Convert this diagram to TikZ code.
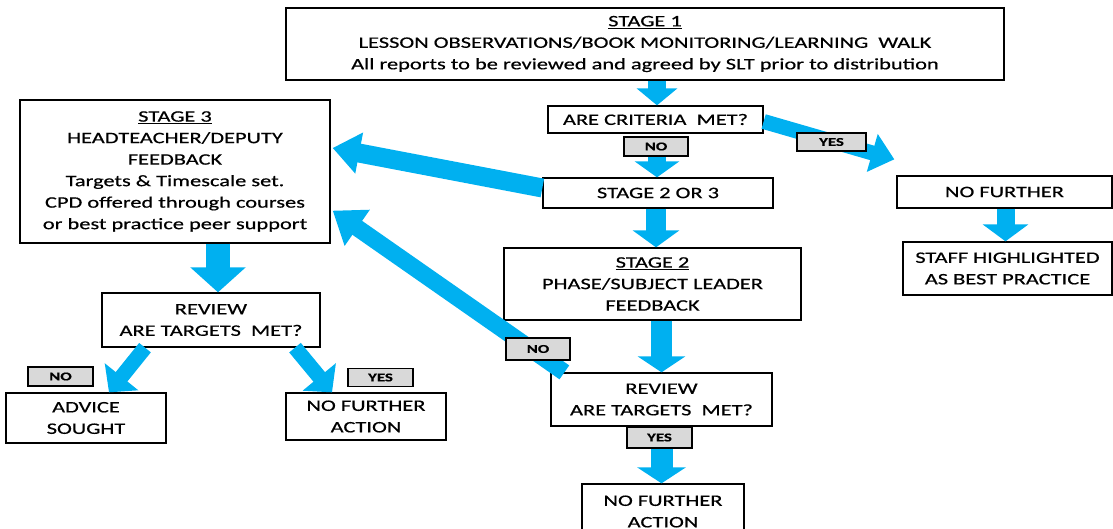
\documentclass[tikz,border=0pt]{standalone}
\usepackage{fontspec}
\setmainfont{Carlito}[FakeStretch=1.4, FakeBold=0.5]
\usetikzlibrary{arrows.meta}
\definecolor{ablue}{RGB}{0,176,240}
\definecolor{lgray}{RGB}{217,217,217}
\begin{document}
\begin{tikzpicture}[x=1pt,y=-1pt,
  box/.style={draw=black, line width=1.3pt, fill=white, align=center, inner sep=0pt,
    font=\fontsize{16}{21.5}\selectfont},
  lbl/.style={draw=black, line width=1.2pt, fill=lgray, inner sep=0pt,
    font=\bfseries\fontsize{12}{12}\selectfont},
  bigarrow/.style n args={3}{draw=ablue, line width=#1, -{Triangle[width=#2, length=#3]}},
]
\useasboundingbox (0,0) rectangle (1113,529);

% boxes
\node[box, minimum width=718pt, minimum height=72pt] (s1) at (645,44)
  {\underline{STAGE 1}\\LESSON OBSERVATIONS/BOOK MONITORING/LEARNING\ \ WALK\\All reports to be reviewed and agreed by SLT prior to distribution};
\node[box, minimum width=215pt, minimum height=27pt] (crit) at (655.5,119.5) {ARE CRITERIA\ \ MET?};
\node[box, minimum width=230pt, minimum height=30pt] (s23) at (658,193) {STAGE 2 OR 3};
\node[box, minimum width=215pt, minimum height=32pt] (nf1) at (1004.5,192) {NO FURTHER};
\node[box, minimum width=209pt, minimum height=53pt] (staff) at (1007.5,268.5) {STAFF HIGHLIGHTED\\AS BEST PRACTICE};
\node[box, minimum width=310pt, minimum height=143pt] (s3) at (175,171.5)
  {\underline{STAGE 3}\\HEADTEACHER/DEPUTY\\FEEDBACK\\Targets \& Timescale set.\\CPD offered through courses\\or best practice peer support};
\node[box, minimum width=218pt, minimum height=54pt] (rl) at (211,320) {REVIEW\\ARE TARGETS\ \ MET?};
\node[box, minimum width=160pt, minimum height=50pt] (adv) at (86,418) {ADVICE\\SOUGHT};
\node[box, minimum width=160pt, minimum height=47pt] (nfal) at (366,416.5) {NO FURTHER\\ACTION};
\node[box, minimum width=297pt, minimum height=72pt] (s2) at (652.5,284)
  {\underline{STAGE 2}\\PHASE/SUBJECT LEADER\\FEEDBACK};
\node[box, minimum width=221pt, minimum height=53pt] (rr) at (661.5,399.5) {REVIEW\\ARE TARGETS\ \ MET?};
\node[box, minimum width=162pt, minimum height=55pt] (nfab) at (663,511.5) {NO FURTHER\\ACTION};

% arrows
\draw[bigarrow={18pt}{40pt}{17pt}] ([xshift=1.5pt]crit.north |- s1.south) -- ([xshift=1.5pt]crit.north);
\draw[bigarrow={18pt}{44pt}{16pt}] ([xshift=1.5pt]crit.south |- s23.north) ++(0,-22) -- ([xshift=1.5pt]crit.south |- s23.north);
\draw[bigarrow={15pt}{38pt}{23pt}] ([yshift=-2pt]crit.east) -- ([xshift=-2pt,yshift=16pt]nf1.north west);
\draw[bigarrow={19pt}{40pt}{27pt}] ([yshift=5pt]s23.west) -- ([xshift=2pt,yshift=23.5pt]s3.east);
\draw[bigarrow={20pt}{46pt}{17pt}] ([xshift=-2pt]s23.south) -- ([xshift=-2pt]s23.south |- s2.north);
\draw[bigarrow={18pt}{45pt}{17pt}] ([xshift=-2pt]nf1.south -| staff.north) -- ([xshift=-2pt]staff.north);
\draw[bigarrow={24pt}{54pt}{25pt}] ([xshift=43pt]s3.south) -- ([xshift=7pt]rl.north);
\draw[bigarrow={15pt}{42pt}{20pt}] ([xshift=-66pt]rl.south) -- ([xshift=23pt]adv.north);
\draw[bigarrow={15pt}{42pt}{20pt}] ([xshift=84pt]rl.south) -- ([xshift=-34pt]nfal.north);
\draw[bigarrow={21pt}{47pt}{16pt}] (s2.south -| rr.north) -- (rr.north);
\draw[bigarrow={22pt}{48pt}{16pt}] (rr.south) ++(0,21) -- (rr.south |- nfab.north);
\draw[bigarrow={17pt}{42pt}{30pt}] ([xshift=14pt]rr.north west) -- ([xshift=2pt,yshift=33pt]s3.south east);

% labels
\node[lbl, minimum width=64pt, minimum height=19pt] (no1) at (656,146.5) {NO};
\node[lbl, minimum width=69pt, minimum height=18pt] (yes1) at (831.5,142) {YES};
\node[lbl, minimum width=65pt, minimum height=19pt] (no2) at (60.5,376.5) {NO};
\node[lbl, minimum width=65pt, minimum height=18pt] (yes2) at (380.5,377.5) {YES};
\node[lbl, minimum width=64pt, minimum height=22pt] (no3) at (538,349) {NO};
\node[lbl, minimum width=65pt, minimum height=21pt] (yes3) at (659.5,437.5) {YES};
\end{tikzpicture}
\end{document}
